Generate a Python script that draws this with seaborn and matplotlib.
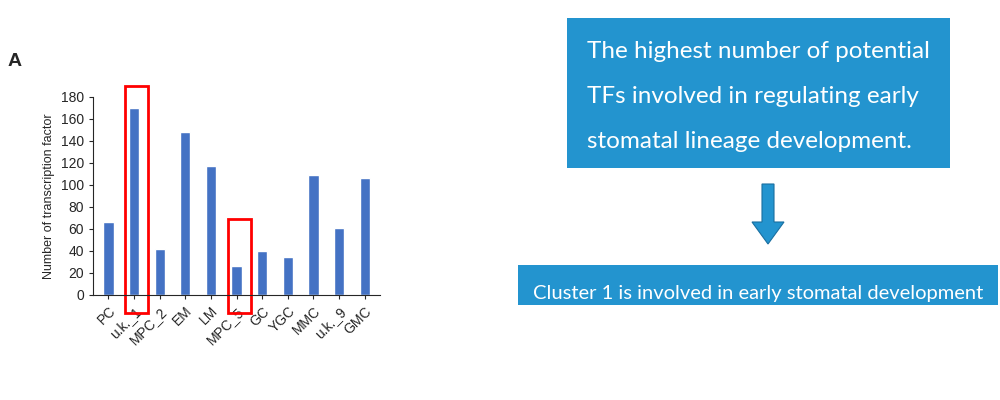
import matplotlib.pyplot as plt
import seaborn as sns
from matplotlib.patches import Rectangle, FancyArrow

clusters = ["PC", "u.k._1", "MPC_2", "EM", "LM", "MPC_5", "GC", "YGC", "MMC", "u.k._9", "GMC"]
tf_counts = [66, 170, 42, 148, 117, 26, 40, 35, 109, 61, 106]
highlight = ["u.k._1", "MPC_5"]
highlight_tops = [190, 69]

sns.set_style("ticks")
plt.rcParams["font.family"] = ["Liberation Sans", "DejaVu Sans"]

fig = plt.figure(figsize=(10, 4), dpi=100)
ax = fig.add_axes([0.093, 0.2625, 0.287, 0.495])
sns.barplot(x=clusters, y=tf_counts, color="#4472C4", width=0.4, saturation=1, ax=ax)
ax.set_ylim(0, 180)
ax.set_yticks(range(0, 181, 20))
ax.set_xlim(-0.6, len(clusters) - 0.4)
ax.set_ylabel("Number of transcription factor", fontsize=9)
ax.tick_params(labelsize=10, length=3)
plt.setp(ax.get_xticklabels(), rotation=45, ha="right", rotation_mode="anchor")
sns.despine(ax=ax)

for name, top in zip(highlight, highlight_tops):
    i = clusters.index(name)
    ax.add_patch(Rectangle((i - 0.1, -16), 0.9, top + 16, fill=False,
                           edgecolor="red", linewidth=2, clip_on=False) if False else
                 Rectangle((i - 0.35, -16), 0.9, top + 16, fill=False,
                           edgecolor="red", linewidth=2, clip_on=False))

fig.text(0.008, 0.835, "A", fontsize=14, fontweight="bold")

blue = "#2394CF"
fig.patches.append(Rectangle((0.567, 0.58), 0.383, 0.375, transform=fig.transFigure,
                             facecolor=blue, edgecolor="none"))
for y, line in zip([0.87, 0.758, 0.646],
                   ["The highest number of potential", "TFs involved in regulating early",
                    "stomatal lineage development."]):
    fig.text(0.587, y, line, color="white", fontsize=17.5, va="center", family="Lato")

fig.patches.append(FancyArrow(0.768, 0.54, 0, -0.15, width=0.012, head_width=0.032,
                              head_length=0.055, length_includes_head=True,
                              transform=fig.transFigure, facecolor=blue,
                              edgecolor="#1a6fa0", linewidth=0.8))

fig.patches.append(Rectangle((0.518, 0.238), 0.48, 0.1, transform=fig.transFigure,
                             facecolor=blue, edgecolor="none"))
fig.text(0.758, 0.265, "Cluster 1 is involved in early stomatal development", color="white",
         fontsize=14.5, ha="center", va="center", family="Lato")

fig.savefig("out.png", dpi=100)
